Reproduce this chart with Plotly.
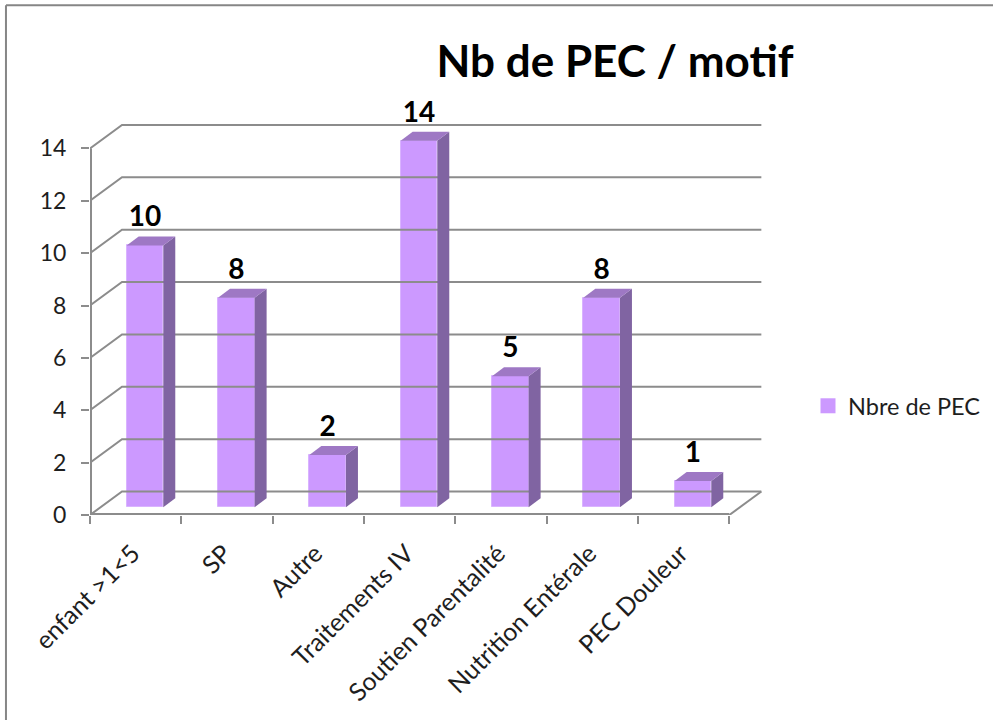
import plotly.graph_objects as go

categories = ["enfant >1<5", "SP", "Autre", "Traitements IV", "Soutien Parentalité", "Nutrition Entérale", "PEC Douleur"]
values = [10, 8, 2, 14, 5, 8, 1]
y_ticks = [0, 2, 4, 6, 8, 10, 12, 14]
series_name = "Nbre de PEC"
title_text = "Nb de PEC / motif"

W, H = 993, 720
PX_X, PX_Y = 91.3, 26.2      # pixels per category / per value unit
X0, Y0 = 90, 515             # pixel of the origin
X_MAX, Y_MAX = 7.5, 16
DX, DY = 32 / PX_X, 23.5 / PX_Y       # full depth of the floor, in data units
BAR_W = 36.6 / PX_X
BAR_DX, BAR_DY = 12 / PX_X, 9 / PX_Y  # depth of a bar
FX, FY = 9.3 / PX_X, 7.7 / PX_Y       # front face offset of a bar
LABEL_PAD = 3 / PX_Y
TICK_SHIFT = -3 / PX_X

GRID = "#8C8C8C"
FRONT, SIDE, TOP = "#CC99FF", "#8064A2", "#9E78C4"
INK = "#1E1E1E"
FONT = "Lato"
n = len(categories)
fig = go.Figure()


def line(xs, ys, width=2):
    fig.add_trace(go.Scatter(x=xs, y=ys, mode="lines", line=dict(color=GRID, width=width),
                             showlegend=False, hoverinfo="skip"))


# walls and floor
for t in y_ticks:
    line([0, DX, n + DX], [t, t + DY, t + DY])
line([n, n + DX], [0, DY])
line([0, 0], [0, y_ticks[-1]], 4)   # half of the stroke is clipped at the plot edge
line([0, n], [0, 0], 4)

# bars: front face through the bar trace, side and top faces from the same values
centers = [i + 0.5 + FX for i in range(n)]
fig.add_trace(go.Bar(x=centers, y=values, base=[FY] * n, width=BAR_W,
                     marker=dict(color=FRONT, line=dict(color="#D9B3FF", width=1)),
                     showlegend=False, hoverinfo="skip"))
for c, v in zip(centers, values):
    r = c + BAR_W / 2
    l = c - BAR_W / 2
    fig.add_trace(go.Scatter(x=[r, r + BAR_DX, r + BAR_DX, r, r],
                             y=[FY, FY + BAR_DY, FY + v + BAR_DY, FY + v, FY],
                             mode="lines", fill="toself", fillcolor=SIDE, line=dict(width=0),
                             showlegend=False, hoverinfo="skip"))
    fig.add_trace(go.Scatter(x=[l, l + BAR_DX, r + BAR_DX, r, l],
                             y=[FY + v, FY + v + BAR_DY, FY + v + BAR_DY, FY + v, FY + v],
                             mode="lines", fill="toself", fillcolor=TOP, line=dict(width=0),
                             showlegend=False, hoverinfo="skip"))

# data labels
fig.add_trace(go.Scatter(x=centers, y=[v + FY + BAR_DY + LABEL_PAD for v in values], mode="text",
                         text=[str(v) for v in values], textposition="top center",
                         textfont=dict(family=FONT, size=28, color="#000000", weight="bold"),
                         showlegend=False, hoverinfo="skip", cliponaxis=False))

# legend entry
fig.add_trace(go.Scatter(x=[None], y=[None], mode="markers", name=series_name,
                         marker=dict(symbol="square", size=15, color=FRONT)))

fig.update_layout(
    width=W, height=H, autosize=False,
    margin=dict(l=X0, r=W - X0 - X_MAX * PX_X, t=Y0 - Y_MAX * PX_Y, b=H - Y0, pad=0),
    paper_bgcolor="white", plot_bgcolor="white",
    font=dict(family=FONT, color=INK),
    title=dict(text=title_text, x=615 / W, xanchor="center", xref="container",
               y=1 - 62 / H, yanchor="middle",
               font=dict(family=FONT, size=44, color="#000000", weight="bold")),
    xaxis=dict(range=[0, X_MAX], showgrid=False, zeroline=False, showline=False,
               tickmode="array", tickvals=[i + 0.5 + TICK_SHIFT for i in range(n)], ticktext=categories,
               tickangle=-45, ticks="", ticklabelstandoff=18, tickfont=dict(family=FONT, size=25, color=INK),
               minor=dict(tickmode="array", tickvals=list(range(n + 1)), ticks="outside",
                          ticklen=8, tickwidth=2, tickcolor=GRID, showgrid=False)),
    yaxis=dict(range=[0, Y_MAX], showgrid=False, zeroline=False, showline=False,
               tickmode="array", tickvals=y_ticks, ticks="outside", ticklen=8, tickwidth=2,
               ticklabelstandoff=10, tickcolor=GRID, tickfont=dict(family=FONT, size=23, color=INK)),
    legend=dict(xref="container", yref="container", xanchor="left", yanchor="middle",
                x=808 / W, y=1 - 406 / H, bgcolor="rgba(0,0,0,0)",
                font=dict(family=FONT, size=23.5, color=INK)),
    bargap=0,
    shapes=[
        dict(type="line", xref="paper", yref="paper", x0=(6 - X0) / (X_MAX * PX_X), x1=(6 - X0) / (X_MAX * PX_X),
             y0=-(H - Y0) / (Y_MAX * PX_Y), y1=(Y0 - 5) / (Y_MAX * PX_Y), line=dict(color="#868686", width=2)),
        dict(type="line", xref="paper", yref="paper", x0=(6 - X0) / (X_MAX * PX_X), x1=(W - X0) / (X_MAX * PX_X),
             y0=(Y0 - 5) / (Y_MAX * PX_Y), y1=(Y0 - 5) / (Y_MAX * PX_Y), line=dict(color="#868686", width=2)),
    ],
)

fig.write_html("out.html", post_script="document.body.style.margin='0';", config={"displayModeBar": False})
